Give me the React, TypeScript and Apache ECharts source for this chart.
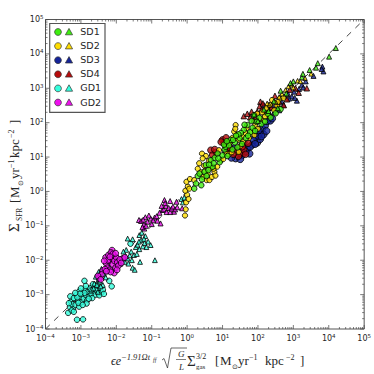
import React, { useEffect, useRef } from "react";
import * as echarts from "echarts";

// All pairs are [log10 x, log10 y].
const gd1Circles = [[-3.36,-3.53],[-3.11,-3.73],[-2.94,-3.72],[-2.9,-2.6],[-2.2,-2.6],[-2.13,-2.76],[-3.31,-3.36],[-3.28,-3.2],[-3.3,-3.05],[-3.22,-3.42],[-3.25,-3.28],[-3.18,-3.12],[-3.15,-3.3],[-3.12,-3.0],[-3.08,-3.18],[-3.05,-3.35],[-3.04,-2.9],[-3.0,-3.08],[-2.98,-3.22],[-2.95,-2.98],[-2.92,-3.12],[-2.88,-2.85],[-2.85,-3.02],[-2.82,-3.16],[-2.8,-2.92],[-2.76,-3.05],[-2.74,-2.82],[-2.7,-2.98],[-2.68,-3.1],[-2.64,-2.9],[-2.62,-2.78],[-2.58,-3.0],[-2.55,-2.88],[-2.5,-2.96],[-2.46,-2.8],[-2.42,-2.94],[-2.38,-2.86],[-3.2,-3.1],[-3.1,-3.08],[-2.9,-2.95],[-2.72,-2.88],[-3.34,-3.25],[-3.02,-2.97],[-2.78,-3.12],[-1.6,-1.52],[-2.56,-2.72],[-3.26,-3.46],[-3.2,-3.5],[-3.16,-2.95],[-3.0,-2.82],[-2.86,-2.75],[-2.66,-2.7],[-2.84,-3.26],[-3.07,-3.24],[-2.95,-3.3],[-2.48,-3.02],[-2.35,-2.98]];
const gd1Triangles = [[-2.7,-2.85],[-2.62,-2.68],[-2.55,-2.72],[-2.5,-2.55],[-2.46,-2.62],[-2.42,-2.48],[-2.38,-2.72],[-2.35,-2.4],[-2.5,-2.34],[-2.42,-2.25],[-2.3,-2.5],[-2.28,-2.32],[-2.2,-2.2],[-1.95,-2.0],[-1.88,-2.1],[-1.82,-1.92],[-1.76,-2.05],[-1.72,-1.9],[-1.68,-1.95],[-1.62,-1.86],[-1.56,-2.0],[-1.5,-1.85],[-1.54,-2.22],[-1.48,-2.28],[-1.33,-2.05],[-0.91,-2.0],[-1.68,-1.37],[-1.54,-1.39],[-1.35,-1.27],[-1.72,-1.7],[-1.45,-1.62],[-1.4,-1.55],[-1.35,-1.68],[-1.3,-1.42],[-1.25,-1.6],[-1.2,-1.5],[-1.15,-1.62],[-1.1,-1.46],[-1.03,-1.56],[-1.18,-1.3],[-1.28,-1.2],[-0.16,-0.22],[-0.12,-0.32],[-0.08,-0.18],[-1.8,-1.75],[-2.58,-2.48],[-2.64,-2.82],[-2.52,-2.92],[-2.44,-2.76],[-2.48,-2.42],[-1.66,-2.1],[-1.58,-1.75],[-1.42,-1.82],[-1.36,-1.46],[-1.22,-1.38]];
const gd2Circles = [[-2.12,-1.71],[-2.06,-2.37],[-2.48,-2.53],[-1.82,-1.95],[-2.3,-1.92],[-2.28,-2.1],[-2.25,-2.22],[-2.22,-1.85],[-2.2,-2.02],[-2.18,-2.28],[-2.15,-1.78],[-2.13,-1.95],[-2.1,-2.12],[-2.07,-1.86],[-2.05,-2.02],[-2.02,-2.22],[-2.0,-1.92],[-1.97,-2.06],[-1.94,-2.16],[-1.9,-1.98],[-2.38,-2.3],[-2.42,-2.42],[-2.32,-2.26],[-2.16,-2.34],[-1.98,-2.28],[-2.24,-2.0],[-2.34,-2.02],[-2.28,-2.32],[-2.1,-1.82],[-1.86,-2.08],[-2.02,-1.8],[-2.52,-2.46],[-2.44,-2.56],[-1.76,-1.92],[-2.18,-1.9]];
const gd2Triangles = [[-1.36,-0.83],[-1.21,-1.08],[-1.03,-0.79],[-0.75,-0.93],[-0.64,-0.25],[-0.7,-0.54],[-0.37,-0.59],[-0.14,-0.49],[-1.3,-0.86],[-1.22,-0.96],[-1.18,-0.75],[-1.12,-0.88],[-1.08,-0.7],[-1.24,-0.82],[-1.0,-0.95],[-0.92,-0.76],[-0.84,-0.85],[-0.78,-0.62],[-0.66,-0.52],[-0.6,-0.42],[-0.58,-0.6],[-0.52,-0.48],[-0.48,-0.6],[-0.44,-0.5],[-0.4,-0.44],[-0.34,-0.52],[-0.3,-0.3],[-0.28,-0.46],[-0.48,-0.28],[-0.72,-0.42],[-1.26,-1.04],[-1.16,-1.0],[-0.96,-0.84],[-0.86,-0.72],[-0.62,-0.34]];
const sd1Circles = [[0.25,0.23],[0.3,0.45],[0.35,0.52],[0.42,0.35],[0.49,0.57],[0.53,0.77],[0.6,0.62],[0.67,0.91],[0.72,0.72],[0.78,0.98],[0.86,1.1],[0.92,0.85],[1.0,1.05],[1.06,1.22],[1.09,1.3],[1.14,1.03],[1.23,1.5],[1.28,1.22],[1.35,1.42],[1.42,1.28],[1.48,1.55],[1.55,1.38],[1.6,1.79],[1.66,1.55],[1.7,1.93],[1.78,1.72],[1.85,1.85],[1.89,2.22],[1.96,2.02],[2.04,2.14],[2.1,1.96],[2.2,2.03],[2.28,2.26],[2.36,2.15],[2.5,2.27],[2.64,2.39],[0.55,0.45],[0.75,0.82],[1.18,1.34],[1.52,1.7],[1.72,1.62],[1.3,1.5],[0.4,0.18],[0.2,0.08],[1.45,1.66],[1.92,1.76],[0.62,0.78],[0.88,0.96],[1.04,1.36],[1.12,1.46],[1.38,1.62],[1.62,1.94],[1.82,2.05]];
const sd1Triangles = [[2.64,2.93],[2.92,3.15],[3.24,3.32],[3.46,3.53],[3.64,3.6],[3.69,3.73],[4.01,3.92],[4.2,4.17],[1.89,2.24],[2.17,2.38],[2.45,2.62],[3.0,3.2],[2.8,2.85],[3.27,3.42],[2.0,2.05],[2.3,2.34],[2.56,2.42]];
const sd2Circles = [[-0.06,-0.7],[-0.04,-0.52],[-0.03,-0.32],[0.0,-0.1],[0.02,0.14],[-0.05,0.02],[-0.02,0.28],[0.04,-0.22],[0.08,0.36],[0.06,0.08],[0.2,0.33],[0.42,1.1],[0.53,1.03],[0.44,0.96],[0.38,0.56],[0.46,0.42],[0.3,0.66],[0.48,0.75],[0.55,0.33],[0.63,0.33],[0.7,0.42],[0.77,0.57],[0.62,0.9],[0.75,0.66],[0.85,0.72],[0.95,0.9],[1.02,0.94],[1.1,1.1],[1.18,1.08],[1.26,1.14],[1.37,1.93],[1.33,1.74],[1.36,1.82],[1.4,1.64],[1.5,1.32],[1.58,1.46],[1.64,1.7],[1.75,1.56],[1.82,1.74],[1.92,1.92],[2.0,1.82],[2.08,2.12],[2.16,2.04],[2.24,2.42],[2.3,2.2],[2.4,2.66],[2.46,2.36],[2.54,2.5],[2.62,2.7],[2.72,2.72],[1.2,1.42],[0.9,1.2],[1.55,1.6],[0.34,0.82],[0.5,0.6],[0.58,0.52],[0.66,0.68],[0.8,0.46],[1.28,1.56],[1.44,1.5],[1.68,1.84],[1.46,1.15],[1.98,2.26],[2.12,2.3],[2.34,2.52],[1.9,1.64],[2.2,2.18],[2.56,2.6]];
const sd2Triangles = [[2.96,3.1],[3.33,3.29],[3.5,3.42],[3.12,3.22],[2.78,2.95],[2.6,2.75],[3.0,3.02],[3.2,3.2],[2.32,2.52],[2.5,2.6],[2.68,2.84],[2.86,3.05],[2.26,2.56]];
const sd3Circles = [[1.37,0.96],[1.55,1.05],[1.7,1.25],[1.76,1.1],[1.84,1.36],[1.93,1.59],[1.98,1.42],[2.04,1.68],[2.12,1.83],[2.06,1.52],[2.16,1.66],[2.2,1.92],[1.65,1.16],[1.88,1.5],[1.25,0.98],[2.0,1.62],[2.26,2.04],[2.35,2.06],[1.5,0.94],[1.78,1.3],[1.92,1.38],[2.1,1.6],[2.24,1.76],[2.02,1.78],[1.1,1.14],[1.32,1.26],[1.6,1.42],[2.4,2.12]];
const sd3Triangles = [[2.17,2.51],[2.68,2.61],[2.96,2.76],[3.1,2.64],[3.24,3.1],[3.57,3.36],[3.82,3.63],[3.85,3.49],[2.4,2.5],[2.52,2.46],[2.75,2.76],[2.85,2.84],[3.02,2.9],[3.16,2.98],[3.28,3.02],[3.8,3.56],[2.3,2.42],[2.88,2.7],[2.6,2.36],[3.04,2.72],[2.45,2.3],[2.72,2.52],[3.35,3.2]];
const sd4Circles = [[0.67,1.2],[0.72,1.06],[0.82,1.14],[1.0,1.5],[1.05,1.42],[1.08,1.34],[1.15,1.2],[1.51,1.1],[1.6,1.22],[1.45,1.02],[1.72,1.4],[1.4,1.18],[1.3,1.08],[0.96,1.44],[1.1,1.56],[1.65,1.08],[1.56,1.3],[0.78,1.22],[1.2,1.28]];
const sd4Triangles = [[1.6,2.19],[1.78,2.16],[1.98,2.32],[2.07,2.61],[2.73,2.51],[3.15,2.87],[2.05,2.48],[2.1,2.38],[2.2,2.3],[2.56,2.55],[2.9,2.96],[3.38,3.0],[1.88,2.08],[2.6,2.62],[1.7,2.26],[1.82,2.32],[1.94,2.18],[2.14,2.56],[2.38,2.44],[2.82,2.68],[3.06,3.0],[2.48,2.78]];

const identityLine = [[-4,-4],[5,5]];
const decades = [-4,-3,-2,-1,0,1,2,3,4,5];
const minorMultipliers = [2,3,4,5,6,7,8,9];
const legendNames = ["SD1","SD2","SD3","SD4","GD1","GD2"];
const legendColors = ["#3eee10","#ffdd00","#15249a","#b80c0c","#33ffdd","#ee10ee"];

const toValues = (pairs: number[][]) => pairs.map(([a, b]) => [Math.pow(10, a), Math.pow(10, b)]);
const SERIF = "'Liberation Serif', serif";
const SANS = "'DejaVu Sans', sans-serif";
const INK = "#262626";

type Part = [string, number, number, number, boolean?];
const textParts = (parts: Part[]) =>
  parts.map(([text, x, y, size, italic]) => ({
    type: "text", x, y,
    style: { text, fill: INK, fontFamily: SERIF, fontSize: size, fontStyle: italic ? "italic" : "normal", textVerticalAlign: "bottom", verticalAlign: "bottom" },
  }));

function scatter(name: string, pairs: number[][], symbol: string, size: number, color: string, z: number) {
  return {
    name, type: "scatter", data: toValues(pairs), symbol, symbolSize: size, z,
    itemStyle: { color, borderColor: "#000", borderWidth: 1 },
  };
}

export default function App() {
  const ref = useRef<HTMLDivElement>(null);
  useEffect(() => {
    const chart = echarts.init(ref.current!, undefined, { renderer: "svg" });
    const tickData: number[][] = [];
    decades.forEach((d) => {
      tickData.push([Math.pow(10, d), 1]);
      if (d < 5) minorMultipliers.forEach((m) => tickData.push([m * Math.pow(10, d), 0]));
    });
    const xTitle: Part[] = [
      ["ϵe", 0, 0, 12, true],
      ["−1.91Ωt", 10, -6, 8.5, true],
      ["ff", 42, -4, 6, true],
      ["G", 67, -9, 9, true],
      ["L", 68, 4, 9, true],
      ["Σ", 76, 1, 15],
      ["3/2", 85, -7, 8],
      ["gas", 85, 3, 7],
      ["[", 104, 0, 13],
      ["M", 109, 0, 13],
      ["⊙", 121, 3, 7],
      ["yr", 127, 0, 13],
      ["−1", 138, -6, 8],
      ["kpc", 154, 0, 13],
      ["−2", 175, -6, 8],
      ["]", 189, 0, 13],
    ];
    const yTitle: Part[] = [
      ["Σ", 0, 0, 15],
      ["SFR", 11, 2, 7.5],
      ["[", 29, 0, 13],
      ["M", 34, 0, 13],
      ["⊙", 46, 3, 7],
      ["yr", 53, 0, 13],
      ["−1", 64, -6, 8],
      ["kpc", 74, 0, 13],
      ["−2", 94, -6, 8],
      ["]", 108, 0, 13],
    ];
    const axisCommon = {
      type: "log", logBase: 10, min: 1e-4, max: 1e5, interval: 1,
      axisLine: { show: false }, axisTick: { show: false }, splitLine: { show: false }, minorTick: { show: false },
      axisLabel: {
        hideOverlap: false, showMinLabel: true, showMaxLabel: true,
        formatter: (v: number) => `{b|10}{s|${Math.round(Math.log10(v)).toString().replace("-", "−")}}`,
        rich: {
          b: { fontFamily: SANS, fontSize: 8, color: INK },
          s: { fontFamily: SANS, fontSize: 5.5, color: INK, verticalAlign: "top", padding: [0, 0, 5, 0] },
        },
      },
    };
    chart.setOption({
      animation: false,
      backgroundColor: "#fff",
      grid: { left: 45.5, top: 19.5, width: 320.5, height: 309.5, show: true, borderColor: "#555", borderWidth: 1, backgroundColor: "#fff" },
      xAxis: { ...axisCommon, axisLabel: { ...axisCommon.axisLabel, margin: 4 } },
      yAxis: { ...axisCommon, axisLabel: { ...axisCommon.axisLabel, margin: 2 } },
      series: [
        { type: "line", data: toValues(identityLine), showSymbol: false, silent: true, z: 1, lineStyle: { color: "#333", width: 0.9, type: [6, 6] } },
        scatter("GD1", gd1Circles, "circle", 5.5, legendColors[4], 2),
        scatter("GD1", gd1Triangles, "triangle", 4.8, legendColors[4], 2),
        scatter("GD2", gd2Circles, "circle", 6, legendColors[5], 3),
        scatter("GD2", gd2Triangles, "triangle", 5, legendColors[5], 3),
        scatter("SD3", sd3Circles, "circle", 7, legendColors[2], 4),
        scatter("SD3", sd3Triangles, "triangle", 5, legendColors[2], 4),
        scatter("SD4", sd4Circles, "circle", 6.5, legendColors[3], 5),
        scatter("SD4", sd4Triangles, "triangle", 5.5, legendColors[3], 5),
        scatter("SD2", sd2Circles, "circle", 5.2, legendColors[1], 6),
        scatter("SD2", sd2Triangles, "triangle", 4.5, legendColors[1], 6),
        scatter("SD1", sd1Circles, "circle", 5.5, legendColors[0], 7),
        scatter("SD1", sd1Triangles, "triangle", 5, legendColors[0], 7),
        {
          type: "custom", z: 8, silent: true, clip: false, data: tickData,
          renderItem: (_: any, api: any) => {
            const v = api.value(0), major = api.value(1);
            const len = major ? 4 : 2;
            const [px] = api.coord([v, 1e-4]);
            const [, py] = api.coord([1e-4, v]);
            const [rx, ty] = api.coord([1e5, 1e5]);
            const [lx, by] = api.coord([1e-4, 1e-4]);
            const st = { stroke: "#444", lineWidth: 0.7 };
            const seg = (x1: number, y1: number, x2: number, y2: number) => ({ type: "line", shape: { x1, y1, x2, y2 }, style: st });
            return {
              type: "group",
              children: [seg(px, by, px, by - len), seg(px, ty, px, ty + len), seg(lx, py, lx + len, py), seg(rx, py, rx - len, py)],
            };
          },
        },
      ],
      graphic: [
        { type: "rect", z: 50, shape: { x: 49.7, y: 23.5, width: 55.3, height: 88.8 }, style: { fill: "#fff", stroke: "#555", lineWidth: 1.2 } },
        ...legendNames.flatMap((name, i) => {
          const y = 32 + i * 14.1;
          return [
            { type: "circle", z: 51, shape: { cx: 58, cy: y, r: 3.4 }, style: { fill: legendColors[i], stroke: "#333", lineWidth: 0.7 } },
            { type: "polygon", z: 51, shape: { points: [[69, y - 3.6], [72.6, y + 2.8], [65.4, y + 2.8]] }, style: { fill: legendColors[i], stroke: "#333", lineWidth: 0.7 } },
            { type: "text", z: 51, x: 80.3, y: y - 5.5, style: { text: name, fill: INK, fontFamily: SANS, fontSize: 9.5 } },
          ];
        }),
        { type: "group", x: 111, y: 367, children: textParts(xTitle) },
        { type: "polyline", shape: { points: [[162, 360], [164, 358.5], [167.5, 368], [171, 348], [187, 348]] }, style: { fill: "none", stroke: INK, lineWidth: 0.7 } },
        { type: "line", shape: { x1: 176, y1: 359.5, x2: 186, y2: 359.5 }, style: { stroke: INK, lineWidth: 0.6 } },
        { type: "group", x: 21, y: 232, rotation: Math.PI / 2, children: textParts(yTitle) },
      ],
    });
    return () => chart.dispose();
  }, []);
  return <div ref={ref} style={{ width: 374, height: 374, position: "absolute", left: 0, top: 0 }} />;
}
